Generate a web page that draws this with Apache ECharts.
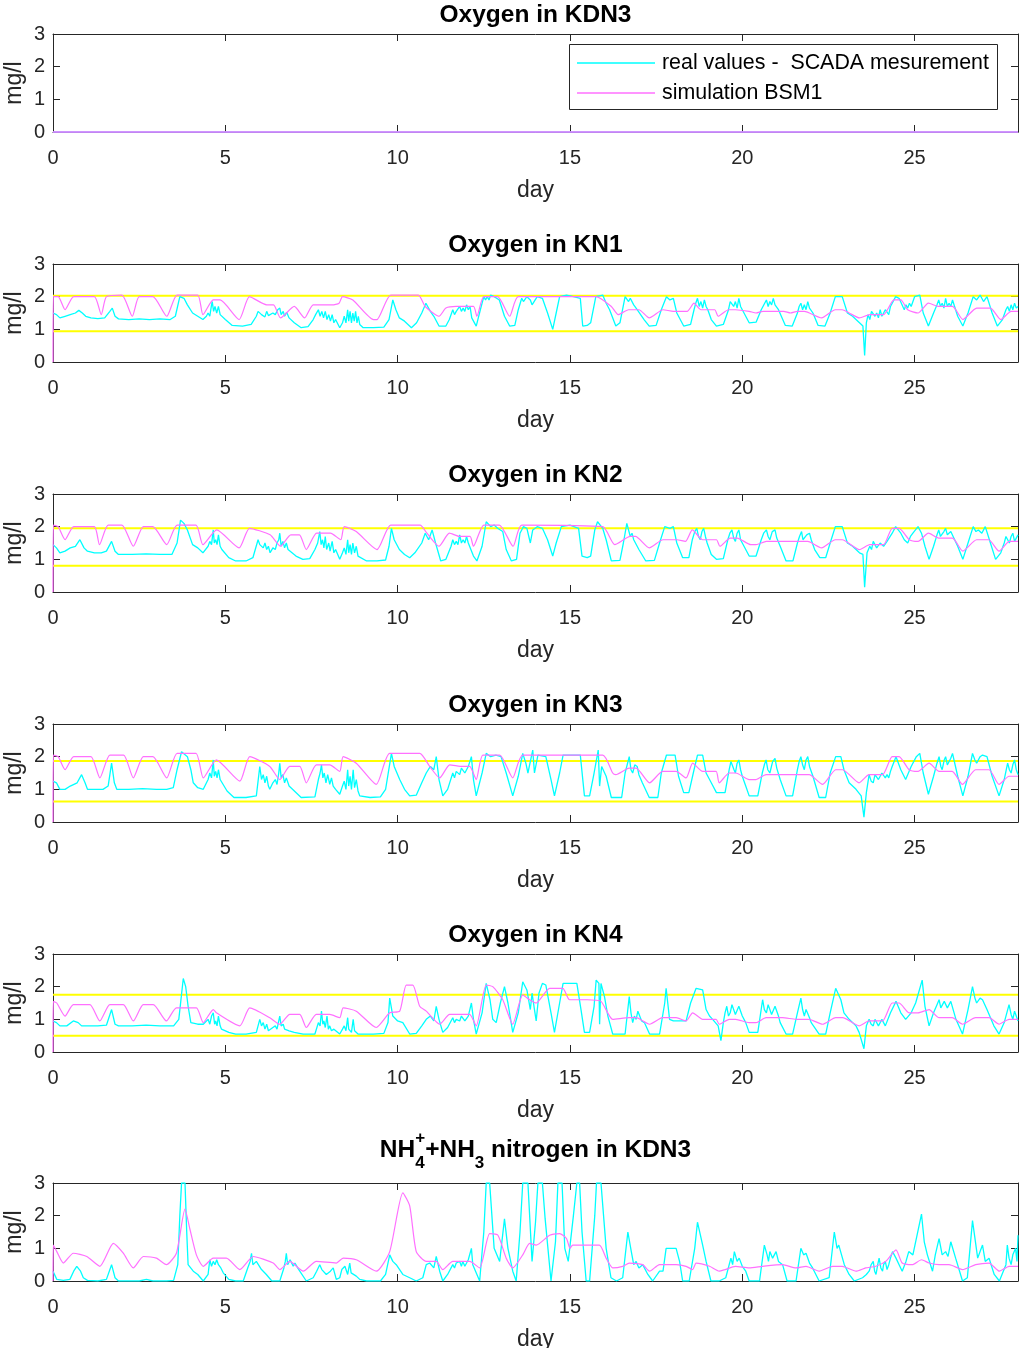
<!DOCTYPE html>
<html>
<head>
<meta charset="utf-8">
<script src="https://cdn.jsdelivr.net/npm/echarts@6.0.0/dist/echarts.min.js"></script>
<style>
html,body{margin:0;padding:0;background:#fff;}
#chart{width:1020px;height:1348px;}
</style>
</head>
<body>
<div id="chart"></div>
<script>
// ---------------- DATA (day, mg/l) ----------------
const dayTicks = [0, 5, 10, 15, 20, 25];
const mgTicks = [0, 1, 2, 3];

// Oxygen in KDN3
const kdn3O2Real = [[0,0],[28,0]];
const kdn3O2Sim = [[0,0],[28,0]];

// Oxygen in KN1
const kn1Limits = [2.03, 0.94];
const kn1Real = [[0,1.5],[0.1,1.45],[0.2,1.35],[0.35,1.4],[0.5,1.45],[0.65,1.5],[0.75,1.58],[0.85,1.5],[0.95,1.4],[1.1,1.35],[1.3,1.33],[1.5,1.35],[1.65,1.55],[1.72,1.65],[1.8,1.4],[1.9,1.32],[2.2,1.3],[2.5,1.32],[2.8,1.3],[3.1,1.32],[3.4,1.3],[3.55,1.4],[3.68,2.0],[3.8,1.95],[3.9,1.75],[4.05,1.5],[4.2,1.4],[4.35,1.3],[4.45,1.4],[4.5,1.5],[4.55,1.4],[4.6,1.75],[4.62,1.85],[4.66,1.55],[4.7,1.7],[4.75,1.5],[4.8,1.7],[4.85,1.45],[4.9,1.5],[5.0,1.3],[5.2,1.12],[5.5,1.1],[5.75,1.15],[5.9,1.4],[5.95,1.55],[6.0,1.6],[6.05,1.45],[6.1,1.5],[6.15,1.38],[6.2,1.55],[6.25,1.42],[6.3,1.4],[6.38,1.5],[6.45,1.45],[6.52,1.6],[6.58,1.65],[6.62,1.45],[6.68,1.55],[6.72,1.4],[6.78,1.52],[6.85,1.35],[7.0,1.2],[7.2,1.05],[7.4,1.08],[7.55,1.3],[7.62,1.45],[7.7,1.6],[7.75,1.4],[7.8,1.55],[7.85,1.35],[7.9,1.55],[7.95,1.3],[8.0,1.45],[8.05,1.25],[8.1,1.45],[8.15,1.2],[8.2,1.3],[8.32,1.05],[8.4,1.2],[8.45,1.4],[8.5,1.2],[8.55,1.6],[8.58,1.25],[8.62,1.55],[8.66,1.2],[8.7,1.5],[8.74,1.25],[8.78,1.55],[8.82,1.2],[8.86,1.4],[8.9,1.15],[9.0,1.05],[9.3,1.05],[9.6,1.07],[9.75,1.3],[9.86,1.9],[9.95,1.6],[10.05,1.35],[10.2,1.25],[10.4,1.05],[10.55,1.2],[10.7,1.5],[10.82,1.8],[10.95,1.55],[11.05,1.4],[11.2,1.1],[11.4,1.1],[11.5,1.3],[11.6,1.6],[11.65,1.45],[11.7,1.55],[11.75,1.5],[11.8,1.7],[11.85,1.55],[11.9,1.65],[11.95,1.55],[12.0,1.75],[12.05,1.6],[12.1,1.7],[12.15,1.35],[12.28,1.1],[12.4,1.6],[12.5,2.0],[12.55,1.9],[12.6,2.0],[12.65,1.9],[12.7,2.05],[12.8,2.0],[12.95,1.9],[13.1,1.4],[13.25,1.1],[13.4,1.12],[13.5,1.6],[13.6,1.95],[13.65,1.85],[13.75,2.0],[13.85,1.9],[13.9,1.75],[13.95,1.7],[14.05,2.0],[14.2,1.95],[14.35,1.5],[14.5,1.0],[14.6,1.5],[14.7,2.0],[14.9,2.05],[15.1,2.0],[15.3,1.95],[15.37,1.1],[15.5,1.12],[15.6,1.2],[15.75,2.0],[15.95,2.05],[16.05,1.8],[16.15,1.6],[16.33,1.1],[16.45,1.2],[16.6,2.0],[16.7,1.85],[16.75,1.95],[16.85,1.75],[16.9,1.8],[16.95,1.6],[17.15,1.3],[17.3,1.1],[17.5,1.12],[17.65,1.6],[17.8,2.0],[17.9,1.9],[18.0,1.95],[18.1,1.5],[18.3,1.1],[18.5,1.15],[18.6,1.6],[18.65,1.8],[18.7,1.95],[18.75,1.7],[18.8,1.85],[18.85,1.65],[18.9,1.9],[18.95,1.7],[19.0,1.6],[19.1,1.3],[19.25,1.1],[19.45,1.15],[19.6,1.6],[19.65,1.85],[19.7,1.9],[19.75,1.7],[19.8,1.85],[19.85,1.65],[19.9,1.95],[19.95,1.7],[20.05,1.5],[20.2,1.2],[20.4,1.22],[20.55,1.6],[20.65,1.8],[20.7,1.9],[20.75,1.7],[20.8,1.85],[20.85,1.75],[20.9,1.95],[20.95,1.75],[21.05,1.6],[21.25,1.12],[21.45,1.1],[21.6,1.5],[21.65,1.7],[21.7,1.8],[21.75,1.6],[21.8,1.75],[21.85,1.6],[21.9,1.85],[21.95,1.65],[22.05,1.5],[22.2,1.12],[22.4,1.1],[22.55,1.5],[22.7,2.0],[22.9,2.0],[23.05,1.5],[23.2,1.4],[23.4,1.2],[23.5,1.1],[23.55,0.2],[23.6,1.2],[23.65,1.45],[23.7,1.3],[23.75,1.55],[23.8,1.6],[23.85,1.4],[23.9,1.5],[23.95,1.35],[24.0,1.6],[24.05,1.4],[24.1,1.35],[24.15,1.6],[24.2,1.55],[24.25,1.45],[24.3,1.7],[24.45,2.0],[24.55,1.95],[24.7,1.6],[24.75,1.75],[24.8,1.65],[24.85,1.8],[24.9,1.7],[25.0,2.0],[25.15,2.05],[25.25,1.5],[25.4,1.1],[25.55,1.5],[25.65,1.75],[25.7,1.9],[25.75,1.7],[25.8,1.8],[25.85,1.65],[25.9,1.95],[25.95,1.7],[26.0,1.8],[26.05,1.7],[26.1,1.9],[26.25,1.4],[26.4,1.1],[26.55,1.5],[26.7,2.0],[26.8,1.9],[26.9,2.05],[27.0,1.85],[27.1,2.0],[27.25,1.5],[27.4,1.1],[27.55,1.3],[27.65,1.6],[27.7,1.7],[27.75,1.55],[27.8,1.75],[27.85,1.6],[27.9,1.8],[27.95,1.65],[28,1.7]];
const kn1Sim = [[0,0],[0.01,2.0],[0.15,2.0],[0.35,1.6],[0.6,2.0],[1.2,2.0],[1.4,1.45],[1.55,2.0],[2.0,2.05],[2.3,1.4],[2.5,2.0],[2.9,2.0],[3.3,1.4],[3.6,2.05],[4.2,2.05],[4.35,1.45],[4.65,1.9],[4.85,1.9],[5.4,1.3],[5.7,2.0],[6.2,1.75],[6.4,1.75],[6.6,1.35],[7.0,1.7],[7.3,1.35],[7.55,1.75],[8.1,1.75],[8.3,1.8],[8.4,2.0],[8.7,1.9],[9.3,1.3],[9.4,1.3],[9.8,2.05],[10.6,2.05],[10.8,1.7],[11.2,1.4],[11.4,1.65],[11.7,1.7],[12.2,1.7],[12.3,1.4],[12.5,2.0],[12.9,2.0],[13.25,1.4],[13.5,2.0],[15.75,2.0],[16.2,1.7],[16.4,1.45],[16.7,1.6],[17.0,1.6],[17.3,1.35],[17.7,1.6],[18.0,1.55],[18.4,1.55],[18.6,1.8],[18.8,1.6],[19.2,1.6],[19.3,1.4],[19.6,1.6],[19.8,1.6],[20.2,1.55],[20.4,1.5],[20.6,1.55],[21.2,1.55],[21.4,1.5],[21.6,1.55],[21.8,1.55],[22.3,1.35],[22.7,1.6],[22.9,1.6],[23.1,1.5],[23.4,1.35],[23.7,1.45],[24.1,1.45],[24.4,1.9],[24.6,1.9],[24.8,1.6],[25.1,1.5],[25.4,1.8],[25.7,1.7],[26.1,1.7],[26.4,1.3],[26.8,1.65],[27.2,1.65],[27.5,1.3],[27.8,1.55],[28,1.55]];

// Oxygen in KN2
const kn2Limits = [1.95, 0.8];
const kn2Real = [[0,1.45],[0.1,1.35],[0.2,1.2],[0.35,1.25],[0.5,1.35],[0.65,1.4],[0.78,1.6],[0.9,1.35],[1.0,1.25],[1.2,1.2],[1.4,1.2],[1.55,1.25],[1.7,1.55],[1.8,1.25],[1.9,1.15],[2.3,1.15],[2.7,1.17],[3.1,1.15],[3.45,1.15],[3.6,1.5],[3.7,2.2],[3.8,2.1],[3.9,1.9],[4.05,1.45],[4.2,1.35],[4.35,1.2],[4.5,1.4],[4.55,1.55],[4.6,1.45],[4.65,1.9],[4.68,1.5],[4.72,1.6],[4.76,1.45],[4.8,1.75],[4.85,1.4],[4.9,1.3],[5.1,1.05],[5.3,0.95],[5.6,0.95],[5.8,1.05],[5.95,1.6],[6.0,1.45],[6.05,1.5],[6.1,1.35],[6.15,1.5],[6.2,1.3],[6.25,1.4],[6.3,1.2],[6.38,1.35],[6.45,1.3],[6.5,1.5],[6.55,1.6],[6.58,1.8],[6.62,1.4],[6.67,1.55],[6.72,1.35],[6.77,1.5],[6.82,1.3],[6.87,1.3],[7.05,1.1],[7.25,1.0],[7.45,1.02],[7.6,1.3],[7.68,1.5],[7.74,1.85],[7.78,1.45],[7.82,1.6],[7.86,1.35],[7.9,1.7],[7.94,1.3],[8.0,1.5],[8.04,1.25],[8.1,1.55],[8.15,1.2],[8.2,1.3],[8.32,1.0],[8.4,1.2],[8.45,1.35],[8.5,1.15],[8.55,1.6],[8.58,1.2],[8.62,1.45],[8.66,1.15],[8.7,1.5],[8.75,1.2],[8.8,1.4],[8.85,1.1],[8.9,1.05],[9.1,0.95],[9.4,0.95],[9.65,0.98],[9.75,1.4],[9.82,1.95],[9.9,1.6],[10.05,1.3],[10.2,1.15],[10.35,1.05],[10.5,1.2],[10.7,1.5],[10.8,1.8],[10.9,1.6],[11.0,1.9],[11.1,1.5],[11.25,0.95],[11.4,1.0],[11.55,1.4],[11.6,1.6],[11.65,1.45],[11.7,1.55],[11.75,1.45],[11.8,1.75],[11.85,1.5],[11.9,1.6],[11.95,1.5],[12.0,1.7],[12.05,1.5],[12.1,1.45],[12.2,1.1],[12.3,0.95],[12.45,1.4],[12.57,2.15],[12.7,2.0],[12.8,2.05],[12.9,1.95],[13.05,1.85],[13.15,1.3],[13.3,0.95],[13.45,1.0],[13.55,1.8],[13.65,2.0],[13.75,1.95],[13.85,1.5],[13.92,1.9],[14.05,2.0],[14.2,1.95],[14.35,1.6],[14.5,1.1],[14.6,1.5],[14.75,2.0],[15.0,2.05],[15.25,1.95],[15.35,1.1],[15.5,1.05],[15.6,1.1],[15.72,1.9],[15.8,2.15],[15.95,1.95],[16.05,1.6],[16.2,0.95],[16.45,0.97],[16.55,1.5],[16.65,2.1],[16.75,1.7],[16.8,1.8],[16.85,1.6],[17.0,1.3],[17.2,0.95],[17.45,0.97],[17.6,1.5],[17.75,2.0],[17.9,1.95],[18.0,2.0],[18.1,1.5],[18.27,1.05],[18.45,1.05],[18.55,1.6],[18.62,1.85],[18.68,1.95],[18.73,1.7],[18.78,1.6],[18.83,1.85],[18.88,1.95],[18.93,1.7],[18.98,1.5],[19.1,1.15],[19.25,1.0],[19.45,1.02],[19.58,1.6],[19.64,1.8],[19.7,1.9],[19.75,1.65],[19.8,1.55],[19.85,1.8],[19.9,1.9],[19.95,1.6],[20.05,1.4],[20.2,1.1],[20.4,1.1],[20.55,1.6],[20.62,1.8],[20.7,1.9],[20.75,1.7],[20.8,1.6],[20.87,1.85],[20.95,1.9],[21.0,1.65],[21.1,1.4],[21.27,0.95],[21.47,0.95],[21.6,1.5],[21.66,1.7],[21.72,1.85],[21.76,1.6],[21.8,1.55],[21.87,1.75],[21.95,1.8],[22.0,1.6],[22.1,1.3],[22.25,1.05],[22.42,1.05],[22.55,1.5],[22.7,2.0],[22.9,2.0],[23.05,1.5],[23.2,1.4],[23.4,1.2],[23.5,1.15],[23.55,0.15],[23.62,1.2],[23.7,1.4],[23.75,1.3],[23.8,1.55],[23.85,1.5],[23.9,1.35],[23.95,1.3],[24.0,1.5],[24.05,1.55],[24.1,1.4],[24.15,1.35],[24.2,1.55],[24.25,1.5],[24.35,1.8],[24.45,2.0],[24.6,1.8],[24.7,1.6],[24.8,1.5],[24.88,1.7],[24.95,1.8],[25.1,2.0],[25.2,1.8],[25.3,1.4],[25.42,1.0],[25.55,1.4],[25.65,1.75],[25.7,1.9],[25.75,1.7],[25.8,1.65],[25.85,1.85],[25.9,1.95],[25.95,1.75],[26.0,1.7],[26.05,1.85],[26.1,1.9],[26.25,1.4],[26.4,1.0],[26.55,1.5],[26.7,2.0],[26.78,1.85],[26.85,1.9],[26.95,1.8],[27.05,2.0],[27.2,1.5],[27.35,1.0],[27.5,1.2],[27.6,1.5],[27.65,1.7],[27.7,1.6],[27.75,1.5],[27.8,1.7],[27.85,1.8],[27.9,1.55],[27.95,1.6],[28,1.75]];
const kn2Sim = [[0,0],[0.01,2.05],[0.15,2.0],[0.35,1.6],[0.6,2.0],[1.2,2.0],[1.35,1.45],[1.6,2.05],[2.0,2.05],[2.33,1.4],[2.62,2.0],[2.9,2.0],[3.3,1.45],[3.6,2.05],[4.15,2.05],[4.35,1.45],[4.75,1.9],[5.4,1.35],[5.7,1.95],[6.3,1.75],[6.6,1.4],[6.9,1.75],[7.15,1.75],[7.35,1.3],[7.65,1.8],[8.05,1.8],[8.35,1.6],[8.45,2.0],[8.8,1.85],[9.4,1.3],[9.8,2.05],[10.65,2.05],[10.85,1.8],[11.2,1.4],[11.5,1.8],[11.8,1.7],[12.1,1.7],[12.2,1.4],[12.5,2.05],[12.95,2.05],[13.35,1.4],[13.6,2.05],[15.95,2.0],[16.3,1.45],[16.75,1.7],[16.9,1.7],[17.3,1.35],[17.7,1.6],[18.1,1.6],[18.35,1.55],[18.55,1.9],[18.85,1.6],[19.25,1.6],[19.35,1.4],[19.65,1.65],[19.85,1.65],[20.25,1.45],[20.4,1.45],[20.7,1.55],[21.2,1.55],[21.6,1.55],[21.9,1.55],[22.3,1.35],[22.7,1.6],[22.9,1.6],[23.4,1.3],[23.7,1.45],[24.1,1.45],[24.35,1.95],[24.55,1.95],[24.85,1.6],[25.1,1.55],[25.4,1.8],[25.7,1.65],[26.1,1.65],[26.4,1.25],[26.8,1.6],[27.15,1.6],[27.45,1.25],[27.75,1.55],[28,1.55]];

// Oxygen in KN3
const kn3Limits = [1.87, 0.63];
const kn3Real = [[0,1.25],[0.1,1.2],[0.2,1.0],[0.35,1.0],[0.5,1.1],[0.7,1.2],[0.83,1.45],[0.93,1.2],[1.0,1.0],[1.2,1.0],[1.45,1.0],[1.6,1.1],[1.7,1.8],[1.78,1.2],[1.85,1.0],[2.2,1.0],[2.6,1.02],[3.0,1.0],[3.3,1.0],[3.49,1.05],[3.6,1.6],[3.73,2.15],[3.9,2.0],[4.0,1.6],[4.07,1.2],[4.2,1.05],[4.36,1.0],[4.5,1.3],[4.55,1.5],[4.6,1.35],[4.65,1.9],[4.68,1.4],[4.72,1.55],[4.76,1.35],[4.8,1.6],[4.85,1.3],[4.89,1.3],[5.05,0.95],[5.25,0.75],[5.6,0.75],[5.9,0.8],[6.0,1.7],[6.05,1.3],[6.1,1.45],[6.15,1.2],[6.2,1.4],[6.25,1.1],[6.29,1.0],[6.38,1.2],[6.45,1.3],[6.5,1.15],[6.55,1.5],[6.58,1.8],[6.62,1.35],[6.67,1.45],[6.72,1.2],[6.77,1.35],[6.85,1.1],[6.95,1.0],[7.2,0.75],[7.6,0.77],[7.7,1.3],[7.75,1.5],[7.79,1.75],[7.83,1.35],[7.87,1.5],[7.92,1.2],[7.97,1.45],[8.03,1.15],[8.08,1.35],[8.13,1.1],[8.2,1.0],[8.32,0.85],[8.4,1.1],[8.45,1.25],[8.5,1.0],[8.55,1.6],[8.58,1.1],[8.62,1.4],[8.66,1.0],[8.71,1.6],[8.75,1.05],[8.8,1.3],[8.85,0.95],[8.9,0.8],[9.2,0.75],[9.5,0.77],[9.65,1.0],[9.82,2.1],[9.9,1.7],[10.06,1.3],[10.2,1.0],[10.35,0.8],[10.54,0.82],[10.7,1.2],[10.83,1.5],[10.95,1.7],[11.05,1.6],[11.12,2.0],[11.2,1.3],[11.31,0.8],[11.45,1.0],[11.6,1.5],[11.65,1.35],[11.7,1.55],[11.75,1.6],[11.8,1.45],[11.85,1.65],[11.89,1.7],[11.95,1.5],[12.0,1.55],[12.05,1.7],[12.09,1.75],[12.14,2.0],[12.2,1.3],[12.28,0.8],[12.45,1.5],[12.57,2.1],[12.7,2.0],[12.85,2.05],[13.0,2.0],[13.15,1.5],[13.34,0.8],[13.5,1.4],[13.63,2.1],[13.72,1.8],[13.78,1.5],[13.92,2.2],[13.97,1.5],[14.07,2.05],[14.3,2.0],[14.45,1.3],[14.55,0.8],[14.7,1.5],[14.8,2.05],[15.0,2.05],[15.3,2.05],[15.42,0.8],[15.57,0.8],[15.7,1.5],[15.82,2.2],[15.86,1.1],[15.92,1.7],[16.05,1.4],[16.2,0.75],[16.5,0.75],[16.6,1.5],[16.72,2.0],[16.77,1.6],[16.82,1.5],[16.88,1.75],[16.95,1.7],[17.0,1.45],[17.1,1.2],[17.3,0.75],[17.55,0.75],[17.65,1.5],[17.8,2.05],[18.05,2.05],[18.15,1.4],[18.3,0.9],[18.45,0.9],[18.6,1.6],[18.7,2.05],[18.85,2.05],[18.95,1.5],[19.1,1.2],[19.25,0.9],[19.5,0.9],[19.62,1.6],[19.67,1.85],[19.72,1.9],[19.76,1.6],[19.8,1.5],[19.85,1.8],[19.9,1.9],[19.95,1.6],[20.0,1.4],[20.1,1.1],[20.2,0.8],[20.45,0.8],[20.58,1.5],[20.64,1.75],[20.69,1.9],[20.74,1.6],[20.8,1.5],[20.88,1.85],[20.95,1.95],[21.0,1.65],[21.1,1.3],[21.27,0.8],[21.46,0.8],[21.6,1.6],[21.65,1.85],[21.7,2.0],[21.75,1.75],[21.8,1.6],[21.85,1.9],[21.9,2.0],[21.95,1.7],[22.05,1.4],[22.23,0.75],[22.42,0.75],[22.55,1.5],[22.71,2.0],[22.86,2.0],[22.95,1.6],[23.1,1.2],[23.3,1.0],[23.45,0.8],[23.53,0.15],[23.6,0.9],[23.68,1.45],[23.74,1.25],[23.8,1.2],[23.85,1.45],[23.9,1.5],[23.95,1.3],[24.0,1.3],[24.05,1.5],[24.1,1.55],[24.15,1.35],[24.2,1.45],[24.25,1.35],[24.3,1.55],[24.35,1.7],[24.46,2.0],[24.6,1.6],[24.74,1.3],[24.82,1.5],[24.9,1.7],[25.05,2.0],[25.15,2.1],[25.25,1.5],[25.4,0.85],[25.55,1.4],[25.65,1.8],[25.71,2.0],[25.76,1.7],[25.8,1.6],[25.86,1.9],[25.9,2.0],[25.95,1.75],[26.0,1.7],[26.05,1.95],[26.1,2.1],[26.25,1.4],[26.4,0.8],[26.55,1.4],[26.68,2.1],[26.75,1.9],[26.8,1.8],[26.9,2.0],[26.97,2.05],[27.1,2.0],[27.25,1.4],[27.45,0.8],[27.6,1.3],[27.66,1.6],[27.7,1.8],[27.75,1.6],[27.8,1.5],[27.85,1.75],[27.9,1.9],[27.95,1.6],[28,1.45]];
const kn3Sim = [[0,0],[0.01,2.05],[0.15,2.0],[0.35,1.6],[0.6,2.0],[1.1,2.0],[1.36,1.35],[1.65,2.05],[2.05,2.05],[2.33,1.35],[2.62,2.0],[2.9,2.0],[3.3,1.35],[3.6,2.1],[4.15,2.1],[4.36,1.35],[4.74,1.9],[5.42,1.25],[5.71,2.0],[6.29,1.7],[6.58,1.3],[6.87,1.7],[7.16,1.7],[7.35,1.2],[7.64,1.75],[8.03,1.75],[8.32,1.55],[8.42,2.0],[8.8,1.8],[9.38,1.15],[9.77,2.1],[10.64,2.1],[10.93,1.7],[11.22,1.35],[11.51,1.75],[11.89,1.7],[12.09,1.7],[12.28,1.3],[12.47,2.05],[12.96,2.05],[13.34,1.35],[13.63,2.05],[15.95,2.05],[16.24,1.5],[16.33,1.45],[16.72,1.65],[16.92,1.65],[17.31,1.2],[17.69,1.55],[18.08,1.55],[18.37,1.35],[18.56,1.8],[18.85,1.55],[19.24,1.55],[19.33,1.2],[19.62,1.5],[19.81,1.5],[20.2,1.3],[20.4,1.3],[20.69,1.45],[21.17,1.45],[21.56,1.45],[21.94,1.45],[22.33,1.15],[22.71,1.6],[22.91,1.6],[23.39,1.2],[23.68,1.45],[24.07,1.45],[24.35,2.0],[24.55,2.0],[24.84,1.6],[25.1,1.55],[25.42,1.8],[25.71,1.55],[26.09,1.55],[26.39,1.15],[26.77,1.6],[27.16,1.6],[27.45,1.15],[27.74,1.4],[28,1.4]];

// Oxygen in KN4
const kn4Limits = [1.75, 0.5];
const kn4Real = [[0,0.95],[0.1,0.9],[0.2,0.8],[0.4,0.8],[0.59,0.95],[0.73,0.9],[0.83,0.8],[1.0,0.8],[1.3,0.8],[1.55,0.82],[1.7,1.3],[1.8,0.85],[1.9,0.8],[2.3,0.8],[2.7,0.82],[3.1,0.8],[3.5,0.8],[3.65,1.0],[3.78,2.25],[3.85,2.0],[3.92,1.4],[4.0,0.9],[4.2,0.85],[4.36,0.85],[4.5,1.0],[4.55,0.85],[4.6,1.1],[4.65,1.2],[4.69,0.85],[4.72,0.95],[4.76,0.8],[4.8,1.1],[4.85,0.8],[4.89,0.7],[5.1,0.6],[5.3,0.55],[5.6,0.55],[5.9,0.6],[6.0,1.0],[6.05,0.8],[6.1,0.9],[6.15,0.7],[6.2,0.85],[6.25,0.65],[6.29,0.6],[6.38,0.75],[6.45,0.8],[6.5,0.7],[6.55,0.95],[6.58,1.1],[6.62,0.8],[6.68,0.85],[6.72,0.7],[6.77,0.75],[6.85,0.65],[7.0,0.6],[7.26,0.55],[7.6,0.55],[7.7,0.9],[7.75,0.8],[7.79,1.25],[7.83,0.85],[7.86,0.95],[7.9,0.75],[7.95,1.1],[7.99,0.7],[8.03,0.8],[8.08,0.65],[8.15,0.7],[8.32,0.55],[8.4,0.7],[8.45,0.8],[8.5,0.65],[8.55,1.05],[8.58,0.7],[8.62,0.75],[8.66,0.6],[8.71,1.0],[8.75,0.65],[8.8,0.7],[8.85,0.55],[8.9,0.55],[9.3,0.55],[9.6,0.57],[9.72,0.9],[9.77,1.65],[9.86,1.1],[10.0,0.95],[10.15,0.9],[10.35,0.55],[10.54,0.57],[10.7,0.8],[10.83,1.0],[10.95,1.1],[11.05,0.95],[11.12,1.4],[11.2,1.0],[11.31,0.6],[11.45,0.75],[11.6,1.05],[11.65,0.9],[11.7,1.0],[11.75,1.05],[11.8,0.95],[11.85,1.1],[11.89,1.1],[11.95,0.95],[12.0,1.0],[12.05,1.1],[12.09,1.15],[12.14,1.5],[12.2,1.0],[12.28,0.55],[12.45,1.2],[12.57,2.1],[12.68,1.6],[12.76,1.0],[12.86,0.9],[12.98,1.5],[13.1,2.0],[13.2,1.5],[13.34,0.6],[13.5,1.2],[13.63,2.15],[13.75,1.9],[13.85,1.3],[13.9,1.8],[13.97,1.3],[14.02,0.95],[14.1,1.8],[14.2,2.1],[14.3,2.05],[14.45,1.2],[14.55,0.6],[14.7,1.5],[14.8,2.1],[15.0,2.1],[15.2,2.1],[15.32,1.3],[15.42,0.6],[15.57,0.6],[15.7,1.4],[15.76,2.2],[15.84,2.1],[15.86,0.85],[15.9,2.1],[16.0,1.7],[16.1,1.1],[16.24,0.55],[16.6,0.55],[16.72,1.7],[16.77,1.2],[16.82,0.9],[16.87,1.1],[16.92,1.0],[16.97,1.25],[17.01,1.2],[17.08,0.95],[17.16,0.9],[17.31,0.55],[17.6,0.55],[17.75,1.5],[17.79,1.95],[17.89,1.0],[18.0,0.95],[18.2,0.95],[18.37,0.95],[18.5,1.5],[18.66,1.95],[18.85,1.9],[18.95,1.3],[19.05,1.1],[19.14,1.0],[19.3,0.8],[19.38,0.35],[19.45,0.9],[19.5,1.2],[19.55,1.4],[19.6,1.1],[19.65,1.2],[19.7,1.45],[19.75,1.5],[19.8,1.15],[19.85,1.2],[19.9,1.4],[19.95,1.4],[20.0,1.1],[20.1,0.9],[20.2,0.6],[20.45,0.6],[20.59,1.6],[20.64,1.3],[20.7,1.2],[20.75,1.45],[20.8,1.4],[20.85,1.15],[20.9,1.2],[20.95,1.4],[21.0,1.35],[21.05,1.1],[21.1,0.9],[21.27,0.55],[21.46,0.55],[21.6,1.2],[21.7,1.65],[21.75,1.3],[21.8,1.1],[21.85,1.3],[21.9,1.25],[21.95,1.05],[22.0,0.9],[22.23,0.55],[22.42,0.55],[22.55,1.2],[22.71,1.95],[22.86,1.6],[22.95,1.2],[23.1,1.0],[23.3,0.8],[23.39,0.6],[23.53,0.1],[23.6,0.8],[23.68,1.0],[23.74,0.85],[23.8,0.8],[23.85,1.0],[23.9,1.0],[23.95,0.8],[24.0,0.8],[24.05,1.0],[24.1,1.0],[24.15,0.8],[24.2,0.8],[24.3,1.2],[24.46,1.55],[24.6,1.2],[24.74,1.0],[24.9,1.2],[25.03,1.5],[25.22,2.2],[25.3,1.4],[25.42,0.8],[25.55,1.2],[25.65,1.45],[25.71,1.6],[25.76,1.35],[25.8,1.3],[25.86,1.55],[25.9,1.6],[25.95,1.35],[26.0,1.3],[26.05,1.55],[26.09,1.5],[26.2,1.0],[26.39,0.55],[26.55,1.3],[26.68,2.0],[26.75,1.65],[26.8,1.5],[26.9,1.65],[26.97,1.6],[27.1,1.3],[27.3,0.8],[27.45,0.55],[27.6,0.9],[27.74,1.45],[27.8,1.15],[27.85,1.0],[27.9,1.25],[27.95,1.3],[28,0.95]];
const kn4Sim = [[0,0],[0.01,1.55],[0.11,1.5],[0.35,1.1],[0.59,1.45],[1.07,1.45],[1.36,0.95],[1.65,1.45],[2.04,1.45],[2.33,0.95],[2.62,1.45],[2.91,1.45],[3.29,0.95],[3.58,1.35],[4.16,1.35],[4.36,0.9],[4.65,1.3],[4.74,1.2],[5.42,0.8],[5.71,1.35],[6.29,1.05],[6.58,0.85],[6.87,1.15],[7.16,1.15],[7.35,0.75],[7.64,1.15],[8.03,1.15],[8.32,1.05],[8.42,1.35],[8.8,1.25],[9.38,0.75],[9.77,1.2],[10.06,1.25],[10.25,2.05],[10.44,2.05],[10.64,1.4],[10.83,1.25],[11.22,0.85],[11.51,1.15],[11.89,1.15],[12.09,1.15],[12.28,0.8],[12.57,2.05],[12.76,2.0],[13.05,1.6],[13.34,0.85],[13.63,1.75],[13.83,1.6],[14.02,1.5],[14.41,1.95],[14.79,1.95],[14.99,1.6],[15.5,1.6],[15.9,1.55],[16.24,1.0],[16.72,1.05],[16.92,1.05],[17.31,0.85],[17.69,1.05],[18.08,1.05],[18.37,0.95],[18.56,1.2],[18.85,1.0],[19.24,1.0],[19.33,0.85],[19.62,1.0],[19.81,1.0],[20.2,0.9],[20.4,0.9],[20.69,1.05],[21.17,1.05],[21.56,1.0],[21.94,1.0],[22.33,0.85],[22.71,1.05],[22.91,1.05],[23.39,0.8],[23.68,0.95],[24.07,0.95],[24.35,1.5],[24.55,1.5],[24.84,1.2],[25.1,1.2],[25.42,1.3],[25.71,1.05],[26.09,1.05],[26.39,0.85],[26.77,1.05],[27.16,1.05],[27.45,0.85],[27.74,1.0],[28,1.0]];

// NH4+ + NH3 nitrogen in KDN3
const nh4Real = [[0,0.3],[0.11,0.05],[0.3,0.02],[0.49,0.05],[0.6,0.3],[0.69,0.45],[0.8,0.3],[0.88,0.1],[1.0,0.02],[1.3,0.0],[1.55,0.05],[1.7,0.5],[1.8,0.1],[1.9,0.0],[2.5,0.0],[2.71,0.05],[2.9,0.0],[3.3,0.0],[3.5,0.02],[3.62,0.5],[3.68,2.0],[3.73,3.0],[3.83,3.0],[3.88,1.5],[3.92,0.5],[4.07,0.3],[4.2,0.2],[4.36,0.0],[4.5,0.2],[4.55,0.65],[4.6,0.45],[4.65,0.6],[4.7,0.5],[4.75,0.65],[4.8,0.5],[4.87,0.4],[4.94,0.25],[5.1,0.05],[5.3,0.0],[5.52,0.0],[5.65,0.4],[5.72,0.6],[5.76,0.85],[5.8,0.5],[5.85,0.45],[5.9,0.6],[5.95,0.55],[6.05,0.35],[6.19,0.2],[6.35,0.0],[6.58,0.0],[6.7,0.4],[6.74,0.6],[6.77,0.85],[6.81,0.5],[6.85,0.45],[6.88,0.65],[6.92,0.6],[6.97,0.45],[7.02,0.55],[7.1,0.4],[7.16,0.3],[7.35,0.0],[7.55,0.1],[7.65,0.3],[7.74,0.5],[7.8,0.35],[7.85,0.4],[7.93,0.2],[8.05,0.3],[8.13,0.4],[8.22,0.05],[8.32,0.1],[8.38,0.35],[8.42,0.3],[8.47,0.45],[8.51,0.5],[8.55,0.2],[8.61,0.55],[8.65,0.25],[8.7,0.3],[8.8,0.15],[8.9,0.05],[9.1,0.0],[9.5,0.0],[9.65,0.2],[9.77,0.8],[9.86,0.6],[9.96,0.5],[10.15,0.2],[10.35,0.1],[10.54,0.0],[10.73,0.1],[10.83,0.5],[10.93,0.55],[11.05,0.4],[11.12,0.75],[11.22,0.3],[11.31,0.0],[11.45,0.2],[11.6,0.5],[11.65,0.4],[11.7,0.55],[11.75,0.5],[11.8,0.6],[11.85,0.45],[11.89,0.6],[11.95,0.45],[12.0,0.5],[12.05,0.65],[12.09,0.7],[12.14,1.0],[12.18,0.5],[12.38,0.0],[12.5,1.5],[12.57,3.0],[12.67,3.0],[12.8,1.0],[12.96,0.6],[13.1,1.9],[13.2,1.0],[13.34,0.3],[13.44,0.0],[13.55,1.5],[13.63,3.0],[13.78,3.0],[13.9,0.6],[14.0,1.8],[14.07,3.0],[14.2,3.0],[14.28,1.9],[14.45,0.0],[14.58,1.2],[14.65,3.0],[14.77,3.0],[14.85,1.0],[14.95,0.6],[15.1,2.0],[15.2,3.0],[15.28,3.0],[15.35,1.5],[15.47,0.0],[15.57,0.0],[15.72,2.0],[15.77,3.0],[15.9,3.0],[16.05,1.0],[16.19,0.1],[16.35,0.0],[16.53,0.1],[16.68,1.5],[16.78,0.9],[16.85,0.5],[16.92,0.6],[17.0,0.4],[17.11,0.5],[17.26,0.2],[17.4,0.0],[17.6,0.3],[17.7,0.3],[17.79,1.0],[18.08,1.0],[18.18,0.6],[18.27,0.0],[18.46,0.0],[18.62,1.0],[18.7,1.8],[18.85,1.1],[18.95,0.6],[19.09,0.0],[19.33,0.0],[19.52,0.1],[19.67,0.7],[19.72,0.5],[19.77,0.9],[19.85,0.6],[19.91,0.7],[20.0,0.45],[20.1,0.3],[20.2,0.0],[20.5,0.0],[20.64,1.1],[20.72,0.8],[20.76,0.6],[20.8,0.9],[20.88,0.7],[20.98,0.9],[21.05,0.6],[21.17,0.5],[21.3,0.0],[21.56,0.0],[21.7,1.0],[21.78,0.8],[21.85,0.85],[21.95,0.55],[22.04,0.4],[22.23,0.0],[22.52,0.1],[22.67,1.5],[22.75,1.0],[22.8,1.1],[22.88,0.8],[22.96,0.5],[23.1,0.2],[23.25,0.0],[23.49,0.1],[23.6,0.2],[23.68,0.3],[23.74,0.5],[23.8,0.6],[23.84,0.3],[23.88,0.2],[23.93,0.5],[23.97,0.7],[24.02,0.4],[24.07,0.3],[24.1,0.5],[24.15,0.6],[24.2,0.35],[24.25,0.5],[24.3,0.7],[24.36,0.9],[24.46,0.7],[24.55,0.5],[24.64,0.3],[24.75,0.6],[24.83,0.9],[24.95,0.8],[25.07,1.4],[25.2,2.05],[25.28,1.2],[25.37,0.8],[25.52,0.3],[25.6,0.8],[25.71,1.3],[25.8,0.8],[25.9,0.9],[25.97,0.75],[26.05,1.2],[26.19,0.7],[26.39,0.0],[26.53,0.1],[26.68,1.85],[26.83,0.7],[26.9,0.9],[26.97,1.1],[27.05,0.6],[27.16,0.7],[27.31,0.2],[27.46,0.0],[27.65,0.5],[27.69,1.1],[27.74,0.7],[27.8,0.5],[27.85,0.8],[27.93,1.0],[27.97,0.6],[28,1.4]];
const nh4Sim = [[0,0],[0.01,1.1],[0.11,0.9],[0.3,0.55],[0.59,0.85],[0.98,0.75],[1.36,0.45],[1.75,1.15],[2.04,0.85],[2.33,0.4],[2.62,0.75],[3.0,0.7],[3.29,0.5],[3.58,0.85],[3.83,2.2],[3.97,1.6],[4.16,0.8],[4.36,0.45],[4.65,0.7],[5.03,0.7],[5.42,0.35],[5.81,0.75],[6.39,0.55],[6.58,0.35],[6.87,0.6],[7.26,0.3],[7.64,0.6],[8.22,0.55],[8.42,0.7],[8.8,0.65],[9.38,0.3],[9.77,0.9],[10.15,2.7],[10.35,2.3],[10.54,0.9],[10.83,0.6],[11.12,0.6],[11.31,0.35],[11.6,0.6],[12.09,0.6],[12.38,0.4],[12.67,1.45],[12.91,1.4],[13.15,0.7],[13.34,0.4],[13.63,0.8],[13.83,1.15],[14.02,1.1],[14.41,1.4],[14.7,1.45],[14.9,1.3],[15.0,1.0],[15.08,1.1],[15.85,1.1],[16.05,0.7],[16.24,0.4],[16.53,0.45],[16.72,0.55],[17.11,0.5],[17.31,0.3],[17.6,0.5],[18.08,0.5],[18.37,0.45],[18.56,0.35],[18.66,0.55],[19.05,0.45],[19.33,0.3],[19.5,0.35],[19.8,0.45],[20.2,0.4],[20.59,0.45],[21.17,0.5],[21.56,0.4],[21.85,0.45],[22.23,0.3],[22.62,0.45],[22.9,0.45],[23.3,0.3],[23.58,0.4],[23.87,0.45],[24.16,0.6],[24.46,0.95],[24.64,0.55],[24.93,0.5],[25.2,0.65],[25.42,0.55],[25.71,0.5],[26.0,0.5],[26.39,0.35],[26.77,0.5],[27.16,0.55],[27.46,0.3],[27.74,0.45],[28,0.45]];

const seriesNames = ['real values -  SCADA mesurement', 'simulation BSM1'];
const panelTitles = ['Oxygen in KDN3', 'Oxygen in KN1', 'Oxygen in KN2', 'Oxygen in KN3', 'Oxygen in KN4', null];
const xName = 'day';
const yName = 'mg/l';

// ---------------- LAYOUT ----------------
const X_MIN = 0, X_MAX = 28, X_STEP = 5;
const Y_MIN = 0, Y_MAX = 3, Y_STEP = 1;
const GRID_LEFT = 53, GRID_WIDTH = 965;
const panelTops = [34, 264, 494, 724, 954, 1183];
const PANEL_H = 98;
const AX = '#262626';
const FONT = '"Liberation Sans", Arial, Helvetica, sans-serif';
const CYAN = '#00ffff', MAGENTA = '#ff70ff', YELLOW = '#ffff00';

const panels = [
  { real: kdn3O2Real, sim: kdn3O2Sim, limits: [], clip: false },
  { real: kn1Real, sim: kn1Sim, limits: kn1Limits, clip: true },
  { real: kn2Real, sim: kn2Sim, limits: kn2Limits, clip: true },
  { real: kn3Real, sim: kn3Sim, limits: kn3Limits, clip: true },
  { real: kn4Real, sim: kn4Sim, limits: kn4Limits, clip: true },
  { real: nh4Real, sim: nh4Sim, limits: [], clip: true }
];

const grid = [], xAxis = [], yAxis = [], series = [], graphic = [];

panels.forEach((p, i) => {
  grid.push({ left: GRID_LEFT, width: GRID_WIDTH, top: panelTops[i], height: PANEL_H,
              containLabel: false, outerBoundsMode: 'none' });
  const tick = { show: true, inside: true, length: 7, lineStyle: { color: AX, width: 1 } };
  const line = { show: true, onZero: false, lineStyle: { color: AX, width: 1 } };
  xAxis.push({
    type: 'value', gridIndex: i, position: 'bottom', min: X_MIN, max: X_MAX, interval: X_STEP,
    axisLine: line, axisTick: tick, splitLine: { show: false },
    axisLabel: { show: true, margin: 16, color: AX, fontSize: 20, fontFamily: FONT, showMaxLabel: false },
    name: xName, nameLocation: 'middle', nameGap: 47, nameMoveOverlap: false,
    nameTextStyle: { color: AX, fontSize: 23, fontFamily: FONT }
  });
  xAxis.push({
    type: 'value', gridIndex: i, position: 'top', min: X_MIN, max: X_MAX, interval: X_STEP,
    axisLine: line, axisTick: tick, splitLine: { show: false }, axisLabel: { show: false }
  });
  yAxis.push({
    type: 'value', gridIndex: i, position: 'left', min: Y_MIN, max: Y_MAX, interval: Y_STEP,
    axisLine: line, axisTick: tick, splitLine: { show: false },
    axisLabel: { show: true, margin: 8, color: AX, fontSize: 20, fontFamily: FONT },
    name: yName, nameLocation: 'middle', nameGap: 27, nameMoveOverlap: false,
    nameTextStyle: { color: AX, fontSize: 23, fontFamily: FONT }
  });
  yAxis.push({
    type: 'value', gridIndex: i, position: 'right', min: Y_MIN, max: Y_MAX, interval: Y_STEP,
    axisLine: line, axisTick: tick, splitLine: { show: false }, axisLabel: { show: false }
  });
  const xi = 2 * i, yi = 2 * i;
  p.limits.forEach(v => {
    series.push({
      type: 'line', xAxisIndex: xi, yAxisIndex: yi, data: [[X_MIN, v], [X_MAX, v]],
      symbol: 'none', silent: true, z: 1,
      lineStyle: { color: YELLOW, width: 2 }
    });
  });
  series.push({
    name: seriesNames[0], type: 'line', xAxisIndex: xi, yAxisIndex: yi, data: p.real,
    symbol: 'none', silent: true, z: 2, color: CYAN, clip: p.clip,
    lineStyle: { color: CYAN, width: 1.3 }
  });
  series.push({
    name: seriesNames[1], type: 'line', xAxisIndex: xi, yAxisIndex: yi, data: p.sim,
    symbol: 'none', silent: true, z: 3, color: MAGENTA, smooth: 0.2, clip: p.clip,
    lineStyle: { color: MAGENTA, width: p.clip ? 1.2 : 1.5 }
  });

  const cx = GRID_LEFT + GRID_WIDTH / 2;
  if (panelTitles[i]) {
    graphic.push({
      type: 'text', x: cx, y: panelTops[i] - 19, z: 100,
      style: { text: panelTitles[i], font: 'bold 24.5px ' + FONT, fill: '#000',
               textAlign: 'center', textVerticalAlign: 'middle', align: 'center', verticalAlign: 'middle' }
    });
  }
});

// composite title with sub/superscripts for the last panel
(function () {
  const mainFont = 'bold 24.5px ' + FONT;
  const subFont = 'bold 17px ' + FONT;
  const ctx = document.createElement('canvas').getContext('2d');
  const tw = (t, f) => { ctx.font = f; return ctx.measureText(t).width; };
  const yMid = panelTops[5] - 33;
  const parts = [
    [{ t: 'NH', f: mainFont, dy: 0 }],
    [{ t: '+', f: subFont, dy: -12 }, { t: '4', f: subFont, dy: 13 }],
    [{ t: '+NH', f: mainFont, dy: 0 }],
    [{ t: '3', f: subFont, dy: 13 }],
    [{ t: ' nitrogen in KDN3', f: mainFont, dy: 0 }]
  ];
  const widths = parts.map(g => Math.max.apply(null, g.map(s => tw(s.t, s.f))));
  const total = widths.reduce((a, b) => a + b, 0);
  let x = GRID_LEFT + GRID_WIDTH / 2 - total / 2;
  parts.forEach((g, k) => {
    g.forEach(s => {
      graphic.push({
        type: 'text', x: x, y: yMid + s.dy, z: 100,
        style: { text: s.t, font: s.f, fill: '#000', textAlign: 'left', textVerticalAlign: 'middle', align: 'left', verticalAlign: 'middle' }
      });
    });
    x += widths[k];
  });
})();

// legend box in first panel
graphic.push(
  { type: 'rect', z: 100, shape: { x: 569.5, y: 44.5, width: 428, height: 65 },
    style: { fill: '#fff', stroke: AX, lineWidth: 1 } },
  { type: 'line', z: 101, shape: { x1: 577, y1: 63, x2: 655, y2: 63 },
    style: { stroke: CYAN, lineWidth: 1.6 } },
  { type: 'line', z: 101, shape: { x1: 577, y1: 93, x2: 655, y2: 93 },
    style: { stroke: MAGENTA, lineWidth: 1.6 } },
  { type: 'text', z: 101, x: 662, y: 63,
    style: { text: seriesNames[0], font: '21.4px ' + FONT, fill: '#000', textAlign: 'left', textVerticalAlign: 'middle', align: 'left', verticalAlign: 'middle' } },
  { type: 'text', z: 101, x: 662, y: 93,
    style: { text: seriesNames[1], font: '21.4px ' + FONT, fill: '#000', textAlign: 'left', textVerticalAlign: 'middle', align: 'left', verticalAlign: 'middle' } }
);

const chart = echarts.init(document.getElementById('chart'), null, { renderer: 'canvas' });
chart.setOption({
  animation: false,
  backgroundColor: '#fff',
  grid, xAxis, yAxis, series, graphic
});
</script>
</body>
</html>
